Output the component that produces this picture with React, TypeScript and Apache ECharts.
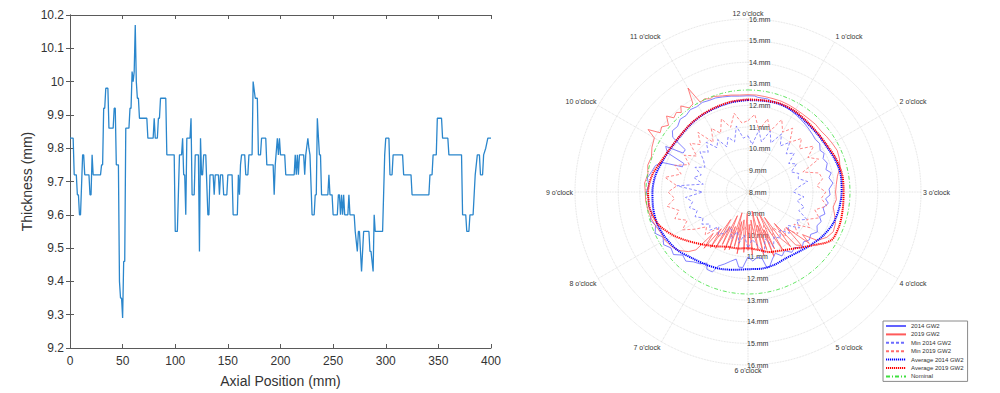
import React, { useEffect, useRef } from 'react';
import * as echarts from 'echarts';

// ---------- Left chart: thickness along the axial position ----------
const axialPosition = [
  0, 3, 4, 6, 7, 8, 9, 10, 12, 13, 14, 18, 19, 20, 21, 22, 29, 30, 31, 32, 33, 34, 36, 37, 41, 42, 43, 44, 46, 47,
  48, 49, 50, 51, 52, 53, 56, 57, 58, 59, 60, 61, 62, 63, 64, 65, 66, 73, 74, 79, 80, 81, 83, 84, 85, 86, 91, 92, 99, 100,
  102, 104, 106, 107, 108, 109, 110, 111, 114, 115, 116, 118, 119, 122, 123, 124, 125, 126, 127, 128, 129, 131, 132, 133, 136, 137, 138, 141, 142, 143,
  145, 146, 149, 150, 154, 155, 159, 160, 161, 162, 163, 166, 167, 169, 170, 173, 174, 176, 178, 179, 181, 182, 186, 187, 193, 194, 195, 197, 198, 199,
  200, 204, 205, 213, 214, 215, 216, 217, 218, 222, 223, 224, 226, 227, 228, 230, 232, 233, 234, 235, 237, 238, 239, 245, 246, 247, 249, 250, 254, 255,
  256, 257, 258, 259, 260, 261, 264, 265, 266, 270, 271, 273, 274, 275, 277, 279, 284, 285, 286, 288, 289, 290, 297, 299, 300, 303, 304, 306, 307, 316,
  317, 324, 325, 341, 342, 344, 345, 348, 349, 353, 354, 359, 360, 372, 373, 376, 377, 379, 380, 383, 384, 385, 387, 389, 390, 392, 393, 395, 397, 400,
];
const thicknessMm = [
  9.83, 9.83, 9.72, 9.72, 9.66, 9.66, 9.6, 9.6, 9.78, 9.78, 9.72, 9.72, 9.66, 9.66, 9.78, 9.72, 9.72, 9.75, 9.75, 9.92, 9.92, 9.98, 9.98, 9.86, 9.86, 9.92, 9.92, 9.75, 9.75, 9.4,
  9.35, 9.35, 9.29, 9.46, 9.46, 9.86, 9.86, 9.92, 9.92, 10.03, 10.0, 10.03, 10.17, 10.0, 9.95, 9.95, 9.89, 9.89, 9.83, 9.83, 9.89, 9.83, 9.83, 9.89, 9.89, 9.95, 9.95, 9.78, 9.78, 9.55,
  9.55, 9.78, 9.78, 9.83, 9.72, 9.72, 9.6, 9.83, 9.83, 9.89, 9.66, 9.66, 9.78, 9.78, 9.49, 9.83, 9.72, 9.72, 9.78, 9.78, 9.78, 9.6, 9.6, 9.72, 9.72, 9.66, 9.72, 9.72, 9.66, 9.72,
  9.72, 9.66, 9.66, 9.72, 9.72, 9.6, 9.6, 9.72, 9.66, 9.75, 9.78, 9.78, 9.72, 9.72, 9.78, 9.78, 10.0, 9.95, 9.95, 9.78, 9.78, 9.83, 9.83, 9.75, 9.75, 9.66, 9.75, 9.83, 9.78, 9.83,
  9.78, 9.78, 9.72, 9.72, 9.78, 9.72, 9.78, 9.72, 9.78, 9.78, 9.72, 9.78, 9.83, 9.8, 9.78, 9.6, 9.6, 9.66, 9.66, 9.89, 9.78, 9.78, 9.66, 9.66, 9.72, 9.66, 9.66, 9.6, 9.6, 9.66,
  9.66, 9.6, 9.66, 9.6, 9.66, 9.6, 9.6, 9.66, 9.6, 9.6, 9.55, 9.49, 9.55, 9.55, 9.43, 9.55, 9.55, 9.49, 9.49, 9.43, 9.6, 9.55, 9.55, 9.78, 9.83, 9.83, 9.72, 9.72, 9.78, 9.78,
  9.72, 9.72, 9.66, 9.66, 9.72, 9.72, 9.78, 9.78, 9.89, 9.89, 9.83, 9.83, 9.78, 9.78, 9.6, 9.6, 9.55, 9.55, 9.6, 9.6, 9.66, 9.72, 9.78, 9.78, 9.72, 9.72, 9.78, 9.8, 9.83, 9.83,
];

// ---------- Right chart: polar thickness (radius in mm, angle in degrees clockwise from 12 o'clock) ----------
const clockLabels = [
  "12 o'clock", "1 o'clock", "2 o'clock", "3 o'clock", "4 o'clock", "5 o'clock",
  "6 o'clock", "7 o'clock", "8 o'clock", "9 o'clock", "10 o'clock", "11 o'clock",
];

const angles10 = [
  0, 10, 20, 30, 40, 50, 60, 70, 80, 90, 100, 110, 120, 130, 140, 150, 160, 170,
  180, 190, 200, 210, 220, 230, 240, 250, 260, 270, 280, 290, 300, 310, 320, 330, 340, 350, 360,
];
const angles5 = [
  0, 5, 10, 15, 20, 25, 30, 35, 40, 45, 50, 55,
  60, 65, 70, 75, 80, 85, 90, 95, 100, 105, 110, 115,
  120, 125, 130, 135, 140, 145, 150, 155, 160, 165, 170, 175,
  180, 185, 190, 195, 200, 205, 210, 215, 220, 225, 230, 235,
  240, 245, 250, 255, 260, 265, 270, 275, 280, 285, 290, 295,
  300, 305, 310, 315, 320, 325, 330, 335, 340, 345, 350, 355,
  360,
];

const avg2014 = [
  12.25, 12.28, 12.32, 12.28, 12.2, 12.18, 12.2, 12.3, 12.36, 12.33, 12.28, 12.2, 12.02, 11.8, 11.62, 11.53, 11.58, 11.6,
  11.57, 11.65, 11.78, 11.88, 12.0, 12.22, 12.35, 12.45, 12.45, 12.42, 12.35, 12.2, 12.1, 12.06, 12.1, 12.14, 12.17, 12.22, 12.25,
];
const avg2019 = [
  12.28, 12.3, 12.35, 12.32, 12.25, 12.22, 12.25, 12.36, 12.43, 12.42, 12.45, 12.5, 12.45, 11.85, 11.4, 11.12, 10.95, 10.72,
  10.6, 10.65, 10.7, 10.9, 11.18, 11.55, 12.0, 12.4, 12.6, 12.62, 12.5, 12.25, 12.12, 12.08, 12.12, 12.16, 12.2, 12.25, 12.28,
];

const min2014 = [
  10.6, 10.2, 10.9, 10.4, 11.0, 10.5, 11.1, 10.6, 11.0, 10.5, 10.8, 10.3,
  10.6, 10.2, 10.5, 10.4, 10.8, 10.3, 10.1, 10.6, 10.3, 10.7, 10.5, 11.0,
  10.6, 10.9, 10.4, 10.7, 10.3, 10.6, 10.4, 10.8, 10.3, 10.9, 10.5, 10.2,
  10.6, 10.0, 10.4, 9.9, 10.3, 9.8, 10.2, 10.4, 10.1, 10.5, 10.3, 10.6,
  10.4, 10.7, 10.5, 10.8, 10.6, 10.9, 10.1, 11.3, 10.1, 10.6, 10.3, 10.7,
  10.3, 10.5, 10.9, 10.6, 11.0, 10.5, 10.8, 10.3, 10.7, 10.4, 11.1, 10.5,
  10.6,
];
const min2019 = [
  11.3, 11.6, 10.9, 11.5, 11.0, 11.7, 11.2, 11.6, 11.0, 11.5, 11.1, 11.7,
  11.2, 11.6, 10.7, 11.4, 11.5, 11.2, 11.6, 11.4, 11.7, 11.2, 11.5, 11.0,
  11.3, 10.6, 11.0, 10.4, 10.7, 10.0, 10.3, 9.7, 10.1, 9.6, 10.0, 9.5,
  9.9, 9.6, 10.0, 9.7, 10.2, 9.8, 10.3, 10.5, 10.2, 10.8, 10.5, 11.0,
  11.5, 11.1, 11.6, 11.3, 11.8, 11.4, 11.7, 11.3, 11.9, 11.2, 11.6, 11.0,
  11.4, 10.9, 11.5, 11.1, 11.6, 10.8, 11.4, 11.0, 11.6, 11.1, 11.7, 11.2,
  11.3,
];

// [angle, radius] pairs
const gw2014: [number, number][] = [
  [0, 12.45], [4, 12.45], [6, 12.4], [12, 12.4], [14, 12.35], [20, 12.35], [24, 12.3], [28, 12.25], [32, 12.2], [36, 12.15],
  [40, 12.1], [44, 12.05], [48, 12.0], [52, 11.95], [56, 12.0], [60, 11.85], [63, 11.95], [66, 11.8], [70, 11.9], [74, 11.75],
  [77, 11.95], [80, 11.8], [84, 11.95], [88, 11.75], [92, 11.8], [95, 11.6], [98, 11.75], [102, 11.55], [106, 11.7], [109, 11.5],
  [112, 11.65], [116, 11.55], [120, 11.7], [124, 11.5], [128, 11.6], [132, 11.45], [136, 11.6], [140, 11.35], [144, 11.45], [148, 11.2],
  [152, 11.35], [156, 11.1], [160, 11.3], [164, 11.6], [166, 11.6], [168, 11.15], [172, 11.05], [176, 11.2], [180, 11.0], [184, 11.5],
  [187, 11.5], [190, 11.15], [194, 11.3], [198, 11.5], [202, 11.7], [204, 12.05], [208, 12.05], [210, 11.8], [214, 12.0], [218, 12.1],
  [222, 12.3], [226, 12.2], [230, 12.5], [234, 12.4], [238, 12.6], [242, 12.45], [246, 12.7], [250, 12.55], [254, 12.7], [258, 12.55],
  [262, 12.65], [266, 12.6], [270, 12.7], [274, 12.6], [278, 12.7], [282, 12.55], [286, 12.45], [289, 12.2], [291, 11.25], [294, 11.25],
  [296, 12.15], [299, 12.35], [301, 11.5], [304, 11.5], [306, 12.3], [309, 12.5], [313, 12.45], [317, 12.6], [321, 12.55], [325, 12.65],
  [329, 12.6], [333, 12.65], [337, 12.6], [341, 12.6], [345, 12.55], [350, 12.5], [355, 12.45], [360, 12.45],
];
const gw2019: [number, number][] = [
  [0, 12.5], [5, 12.5], [10, 12.48], [15, 12.47], [20, 12.47], [25, 12.45], [30, 12.42], [35, 12.4], [40, 12.4], [45, 12.42],
  [50, 12.4], [55, 12.45], [60, 12.5], [65, 12.55], [70, 12.5], [75, 12.4], [80, 12.2], [85, 12.1], [90, 12.05], [95, 12.1],
  [100, 12.0], [105, 12.15], [110, 12.3], [115, 12.35], [120, 12.2], [125, 11.9], [128, 11.2], [130, 11.7], [133, 10.4],
  [135, 11.5], [138, 11.3], [140, 9.9], [142, 11.2], [145, 10.6], [147, 9.4], [149, 11.1], [151, 10.2], [153, 9.1],
  [155, 10.9], [157, 9.9], [158, 11.2], [160, 9.2], [162, 10.8], [164, 9.6], [166, 11.0], [168, 8.9], [170, 10.7],
  [172, 10.0], [174, 9.3], [176, 10.9], [178, 9.5], [180, 10.7], [182, 9.0], [184, 10.8], [186, 9.8], [188, 9.3],
  [190, 10.9], [192, 9.4], [194, 10.6], [196, 9.0], [198, 10.8], [200, 9.7], [202, 10.9], [204, 9.2], [206, 10.7],
  [208, 9.8], [210, 11.0], [212, 9.5], [214, 11.1], [216, 10.1], [218, 11.3], [220, 10.5], [222, 11.6],
  [225, 11.9], [230, 12.2], [235, 12.35], [240, 12.45], [245, 12.45], [250, 12.55], [255, 12.65], [260, 12.7], [265, 12.75], [270, 12.75],
  [275, 12.8], [280, 12.7], [285, 12.8], [290, 12.75], [295, 12.9], [300, 13.0], [302, 13.45], [304, 12.9], [307, 13.0], [310, 12.8],
  [313, 13.15], [315, 12.85], [318, 12.95], [320, 12.8], [322, 13.05], [325, 12.75], [328, 12.8], [330, 13.55], [332, 12.7], [335, 12.75],
  [338, 12.65], [340, 12.7], [345, 12.6], [350, 12.55], [355, 12.5], [360, 12.5],
];
const nominalThickness = 12.72;

const FONT = '"Liberation Sans", Arial, Helvetica, sans-serif';
const gridLine = { color: '#d4d4d4', type: 'dotted' as const, width: 0.8 };

function buildOption() {
  const boxAxisLine = { show: true, lineStyle: { color: '#5a5a5a', width: 1 } };
  const innerTick = { show: true, inside: true, length: 4, lineStyle: { color: '#5a5a5a' } };
  const polarLabel = {
    fontSize: 7,
    color: '#333',
    fontFamily: FONT,
    formatter: '{value}.mm',
    margin: -1,
    align: 'left',
    verticalAlign: 'middle',
  };
  return {
    animation: false,
    backgroundColor: '#ffffff',
    textStyle: { fontFamily: FONT },
    grid: [{ left: 70, right: 509, top: 15, bottom: 45, containLabel: false }],
    xAxis: [
      {
        gridIndex: 0, type: 'value', min: 0, max: 400, interval: 50, position: 'bottom',
        axisLine: boxAxisLine, axisTick: innerTick,
        axisLabel: { color: '#333', fontSize: 12, margin: 7, fontFamily: FONT },
        splitLine: { show: false },
        name: 'Axial Position (mm)', nameLocation: 'middle', nameGap: 26,
        nameTextStyle: { color: '#333', fontSize: 14, fontFamily: FONT },
      },
      {
        gridIndex: 0, type: 'value', min: 0, max: 400, interval: 50, position: 'top',
        axisLine: boxAxisLine, axisTick: innerTick, axisLabel: { show: false }, splitLine: { show: false },
      },
    ],
    yAxis: [
      {
        gridIndex: 0, type: 'value', min: 9.2, max: 10.2, interval: 0.1, position: 'left',
        axisLine: boxAxisLine, axisTick: innerTick,
        axisLabel: { color: '#333', fontSize: 12, margin: 6, fontFamily: FONT },
        splitLine: { show: false },
        name: 'Thickness (mm)', nameLocation: 'middle', nameGap: 36,
        nameTextStyle: { color: '#333', fontSize: 14, fontFamily: FONT },
      },
      {
        gridIndex: 0, type: 'value', min: 9.2, max: 10.2, interval: 0.1, position: 'right',
        axisLine: boxAxisLine, axisTick: innerTick, axisLabel: { show: false }, splitLine: { show: false },
      },
    ],
    polar: [
      { center: [748, 192], radius: 173 },
      { center: [748, 192], radius: 173 },
    ],
    angleAxis: [
      {
        polarIndex: 0, type: 'value', min: 0, max: 360, interval: 30, startAngle: 90, clockwise: true,
        axisLine: { show: false }, axisTick: { show: false },
        axisLabel: {
          fontSize: 7, color: '#333', fontFamily: FONT, margin: 2,
          formatter: (v: number) => (v >= 360 ? '' : clockLabels[Math.round(v / 30) % 12]),
        },
        splitLine: { show: true, lineStyle: gridLine },
      },
      {
        polarIndex: 1, type: 'value', min: 0, max: 360, interval: 30, startAngle: 270, clockwise: true,
        axisLine: { show: false }, axisTick: { show: false }, axisLabel: { show: false }, splitLine: { show: false },
      },
    ],
    radiusAxis: [
      {
        polarIndex: 0, type: 'value', min: 8, max: 16, interval: 1,
        axisLine: { show: false }, axisTick: { show: false },
        axisLabel: polarLabel,
        splitLine: { show: true, lineStyle: gridLine },
      },
      {
        polarIndex: 1, type: 'value', min: 8, max: 16, interval: 1,
        axisLine: { show: false }, axisTick: { show: false },
        axisLabel: { ...polarLabel, showMinLabel: false },
        splitLine: { show: false },
      },
    ],
    legend: {
      orient: 'vertical', left: 883, top: 321,
      itemWidth: 20, itemHeight: 6, itemGap: 2.4,
      padding: [2, 4, 2, 2],
      backgroundColor: '#ffffff', borderColor: '#8a8a8a', borderWidth: 1,
      itemStyle: { opacity: 0 },
      textStyle: { fontSize: 6, color: '#333', fontFamily: FONT },
      data: ['2014 GW2', '2019 GW2', 'Min 2014 GW2', 'Min 2019 GW2', 'Average 2014 GW2', 'Average 2019 GW2', 'Nominal'],
    },
    series: [
      {
        name: 'Thickness', type: 'line', xAxisIndex: 0, yAxisIndex: 0,
        data: axialPosition.map((x, i) => [x, thicknessMm[i]]),
        showSymbol: false, symbol: 'none',
        lineStyle: { color: '#2a86cc', width: 1.3 }, itemStyle: { color: '#2a86cc' },
      },
      {
        name: '2014 GW2', type: 'line', coordinateSystem: 'polar', polarIndex: 0,
        data: gw2014.map(([a, r]) => [r, a]), showSymbol: false, symbol: 'none',
        lineStyle: { color: '#6262ff', width: 0.8 }, itemStyle: { color: '#6262ff' }, z: 3,
      },
      {
        name: '2019 GW2', type: 'line', coordinateSystem: 'polar', polarIndex: 0,
        data: gw2019.map(([a, r]) => [r, a]), showSymbol: false, symbol: 'none',
        lineStyle: { color: '#ff5a5a', width: 0.8 }, itemStyle: { color: '#ff5a5a' }, z: 3,
      },
      {
        name: 'Min 2014 GW2', type: 'line', coordinateSystem: 'polar', polarIndex: 0,
        data: min2014.map((r, i) => [r, angles5[i]]), showSymbol: false, symbol: 'none',
        lineStyle: { color: '#6c6cff', width: 0.8, type: [3, 2] }, itemStyle: { color: '#6c6cff' }, z: 3,
      },
      {
        name: 'Min 2019 GW2', type: 'line', coordinateSystem: 'polar', polarIndex: 0,
        data: min2019.map((r, i) => [r, angles5[i]]), showSymbol: false, symbol: 'none',
        lineStyle: { color: '#ff6c6c', width: 0.8, type: [3, 2] }, itemStyle: { color: '#ff6c6c' }, z: 3,
      },
      {
        name: 'Average 2014 GW2', type: 'line', coordinateSystem: 'polar', polarIndex: 0,
        data: avg2014.map((r, i) => [r, angles10[i]]), showSymbol: false, symbol: 'none', smooth: 0.3,
        lineStyle: { color: '#0000ff', width: 2, type: [1.2, 0.8] }, itemStyle: { color: '#0000ff' }, z: 4,
      },
      {
        name: 'Average 2019 GW2', type: 'line', coordinateSystem: 'polar', polarIndex: 0,
        data: avg2019.map((r, i) => [r, angles10[i]]), showSymbol: false, symbol: 'none', smooth: 0.3,
        lineStyle: { color: '#ff0000', width: 2, type: [1.2, 0.8] }, itemStyle: { color: '#ff0000' }, z: 4,
      },
      {
        name: 'Nominal', type: 'line', coordinateSystem: 'polar', polarIndex: 0,
        data: angles5.map((a) => [nominalThickness, a]), showSymbol: false, symbol: 'none',
        lineStyle: { color: '#3ee03e', width: 0.8, type: [4, 2, 1, 2] }, itemStyle: { color: '#3ee03e' }, z: 3,
      },
    ],
  };
}

export default function App() {
  const ref = useRef<HTMLDivElement>(null);
  useEffect(() => {
    document.body.style.margin = '0';
    document.body.style.overflow = 'hidden';
    if (!ref.current) return;
    const chart = echarts.init(ref.current, null, { renderer: 'svg' });
    chart.setOption(buildOption() as any);
    return () => chart.dispose();
  }, []);
  return <div ref={ref} style={{ width: 1000, height: 393, background: '#fff' }} />;
}
